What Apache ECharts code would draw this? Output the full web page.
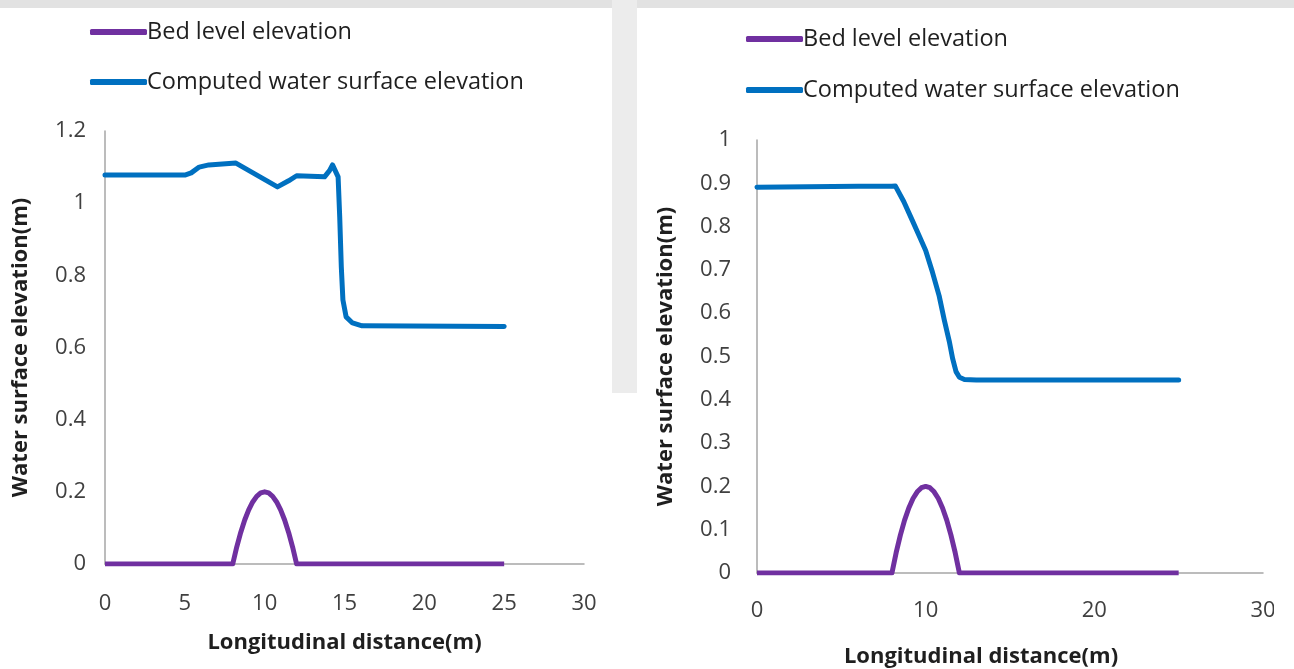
<!DOCTYPE html>
<html><head><meta charset="utf-8">
<script src="https://cdn.jsdelivr.net/npm/echarts@6/dist/echarts.min.js"></script>
<style>html,body{margin:0;padding:0;background:#fff}#c{width:1294px;height:669px}</style>
</head><body><div id="c"></div>
<script>
const seriesNames = ['Bed level elevation', 'Computed water surface elevation'];

const leftBedDist = [0, 8, 8.25, 8.5, 8.75, 9, 9.25, 9.5, 9.75, 10, 10.25, 10.5, 10.75, 11, 11.25, 11.5, 11.75, 12, 25];
const leftBed = [0, 0, 0.047, 0.0875, 0.122, 0.15, 0.172, 0.1875, 0.197, 0.2, 0.197, 0.1875, 0.172, 0.15, 0.122, 0.0875, 0.047, 0, 0];
const leftWaterDist = [0, 5, 5.4, 5.9, 6.5, 8.2, 10.8, 11.5, 12, 13.75, 14.06, 14.25, 14.6, 14.7, 14.8, 14.9, 15.1, 15.5, 16.1, 25];
const leftWater = [1.078, 1.078, 1.084, 1.100, 1.106, 1.111, 1.045, 1.062, 1.076, 1.073, 1.090, 1.106, 1.073, 0.962, 0.823, 0.732, 0.685, 0.668, 0.660, 0.658];

const rightBedDist = [0, 8, 8.25, 8.5, 8.75, 9, 9.25, 9.5, 9.75, 10, 10.25, 10.5, 10.75, 11, 11.25, 11.5, 11.75, 12, 25];
const rightBed = [0, 0, 0.047, 0.0875, 0.122, 0.15, 0.172, 0.1875, 0.197, 0.2, 0.197, 0.1875, 0.172, 0.15, 0.122, 0.0875, 0.047, 0, 0];
const rightWaterDist = [0, 3, 6, 8.0, 8.2, 8.7, 9.2, 9.6, 10.0, 10.4, 10.8, 11.1, 11.4, 11.6, 11.8, 12.0, 12.3, 13, 25];
const rightWater = [0.891, 0.892, 0.893, 0.893, 0.894, 0.858, 0.815, 0.78, 0.745, 0.695, 0.640, 0.585, 0.535, 0.495, 0.465, 0.452, 0.447, 0.446, 0.446];

const leftYTicks = [0, 0.2, 0.4, 0.6, 0.8, 1, 1.2];
const rightYTicks = [0, 0.1, 0.2, 0.3, 0.4, 0.5, 0.6, 0.7, 0.8, 0.9, 1];
const leftXTicks = [0, 5, 10, 15, 20, 25, 30];
const rightXTicks = [0, 10, 20, 30];

const xTitle = 'Longitudinal distance(m)';
const yTitle = 'Water surface elevation(m)';

const pairs = (xs, ys) => xs.map((x, i) => [x, ys[i]]);
const FONT = 'Open Sans';
const BLUE = '#0070c0', PURPLE = '#7030a0';
const axisLine = { show: true, lineStyle: { color: '#a6a6a6', width: 1.5 } };
const tickFont = { fontFamily: FONT, fontSize: 22, color: '#404040' };
const titleFont = { fontFamily: FONT, fontSize: 22, fontWeight: 'bold', color: '#1f1f1f' };
const legendText = { fontFamily: FONT, fontSize: 23.5, color: '#1f1f1f', padding: [0, 0, 0, -5] };

const chart = echarts.init(document.getElementById('c'));
chart.setOption({
  backgroundColor: '#fff',
  animation: false,
  textStyle: { fontFamily: FONT },
  graphic: [
    { type: 'rect', z: -10, shape: { x: 0, y: 0, width: 1294, height: 8 }, style: { fill: '#e2e2e2' } },
    { type: 'rect', z: -10, shape: { x: 612, y: 0, width: 25, height: 393 }, style: { fill: '#ececec' } },
    { type: 'rect', z: 100, zlevel: 1, shape: { x: 1274, y: 590, width: 20, height: 40 }, style: { fill: '#fff' } }
  ],
  legend: [
    { orient: 'vertical', left: 85, top: 15, itemWidth: 57, itemHeight: 6, itemGap: 26, icon: 'roundRect',
      textStyle: legendText, data: seriesNames },
    { orient: 'vertical', left: 741, top: 22, itemWidth: 57, itemHeight: 6, itemGap: 27, icon: 'roundRect',
      textStyle: legendText, data: seriesNames }
  ],
  grid: [
    { left: 105, top: 131, width: 479, height: 433, outerBoundsMode: 'none', containLabel: false },
    { left: 757, top: 140, width: 506, height: 433, outerBoundsMode: 'none', containLabel: false }
  ],
  xAxis: [
    { type: 'value', gridIndex: 0, min: leftXTicks[0], max: leftXTicks[leftXTicks.length - 1], interval: 5,
      axisLine, axisTick: { show: false }, splitLine: { show: false },
      axisLabel: Object.assign({ margin: 29 }, tickFont),
      name: xTitle, nameLocation: 'middle', nameGap: 68, nameTextStyle: titleFont },
    { type: 'value', gridIndex: 1, min: rightXTicks[0], max: rightXTicks[rightXTicks.length - 1], interval: 10,
      axisLine, axisTick: { show: false }, splitLine: { show: false },
      axisLabel: Object.assign({ margin: 27 }, tickFont),
      name: xTitle, nameLocation: 'middle', nameGap: 73,
      nameTextStyle: Object.assign({ padding: [0, 58, 0, 0] }, titleFont) }
  ],
  yAxis: [
    { type: 'value', gridIndex: 0, min: leftYTicks[0], max: leftYTicks[leftYTicks.length - 1], interval: 0.2,
      axisLine, axisTick: { show: false }, splitLine: { show: false },
      axisLabel: Object.assign({ margin: 19 }, tickFont),
      name: yTitle, nameLocation: 'middle', nameGap: 73, nameRotate: 90, nameTextStyle: titleFont },
    { type: 'value', gridIndex: 1, min: rightYTicks[0], max: rightYTicks[rightYTicks.length - 1], interval: 0.1,
      axisLine, axisTick: { show: false }, splitLine: { show: false },
      axisLabel: Object.assign({ margin: 26 }, tickFont),
      name: yTitle, nameLocation: 'middle', nameGap: 80, nameRotate: 90, nameTextStyle: titleFont }
  ],
  series: [
    { name: seriesNames[0], type: 'line', xAxisIndex: 0, yAxisIndex: 0, data: pairs(leftBedDist, leftBed),
      showSymbol: false, color: PURPLE, lineStyle: { width: 5, color: PURPLE, join: 'round' } },
    { name: seriesNames[1], type: 'line', xAxisIndex: 0, yAxisIndex: 0, data: pairs(leftWaterDist, leftWater),
      showSymbol: false, color: BLUE, lineStyle: { width: 5, color: BLUE, join: 'round', cap: 'round' } },
    { name: seriesNames[0], type: 'line', xAxisIndex: 1, yAxisIndex: 1, data: pairs(rightBedDist, rightBed),
      showSymbol: false, color: PURPLE, lineStyle: { width: 5, color: PURPLE, join: 'round' } },
    { name: seriesNames[1], type: 'line', xAxisIndex: 1, yAxisIndex: 1, data: pairs(rightWaterDist, rightWater),
      showSymbol: false, color: BLUE, lineStyle: { width: 5, color: BLUE, join: 'round', cap: 'round' } }
  ]
});
</script></body></html>
